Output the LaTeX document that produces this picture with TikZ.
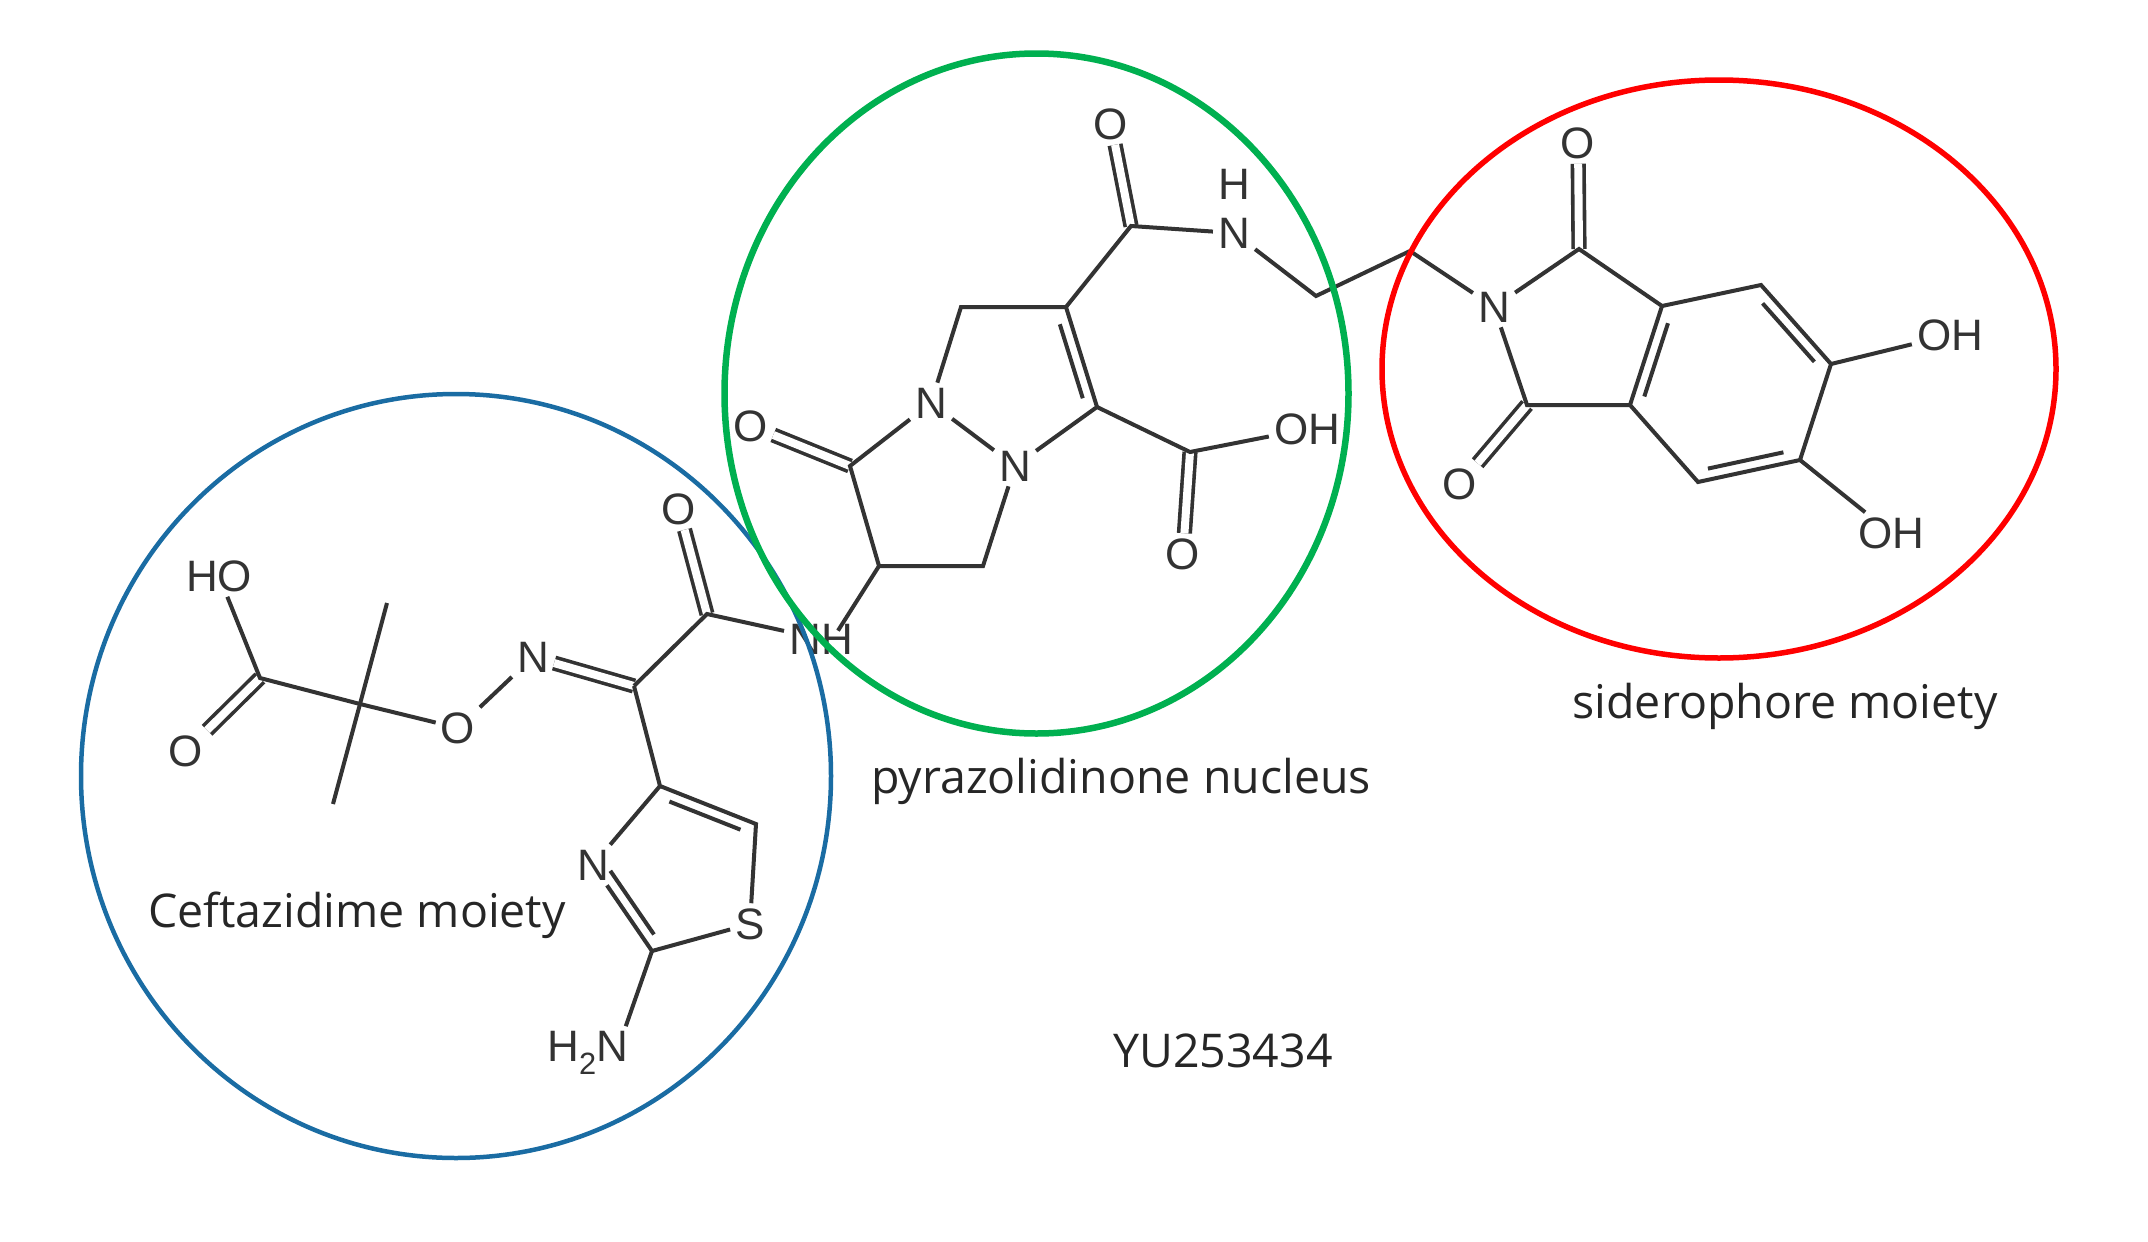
\documentclass[tikz,border=0pt]{standalone}
\usepackage{fontspec}
\usepackage{tikz}
\usetikzlibrary{calc}
\setmainfont{Liberation Sans}
\newfontfamily\labelfont{Open Sans}
\definecolor{bondgray}{HTML}{333333}
\definecolor{blueline}{HTML}{1A6CA3}
\definecolor{greenline}{HTML}{00B050}
\definecolor{redline}{HTML}{FF0000}
\tikzset{
	atom/.style={inner sep=5pt,text=bondgray,font=\fontsize{44}{48}\selectfont},
	caption/.style={inner sep=0pt,text=black!85,font=\labelfont\fontsize{46.5}{50}\selectfont},
	bond/.style={draw=bondgray,line width=4pt},
	dbond/.style={draw=bondgray,line width=3.6pt,double=white,double distance=8pt},
	moiety/.style={line width=#1,fill=none}
}
% inner line of a double bond in a ring
\newcommand{\ringbond}[3]{\draw[bond] ($(#1)!.14!(#2)!11pt!#3:(#2)$) -- ($(#1)!.88!(#2)!11pt!#3:(#2)$);}

\begin{document}
\begin{tikzpicture}[x=1pt,y=-1pt]
\useasboundingbox (0,0) rectangle (2148,1242);

% ceftazidime part
\node [atom] (ho) at (219,576) {HO};
\node [atom] (oa) at (186,751) {O};
\node [atom] (oe) at (458,728) {O};
\node [atom] (no) at (533,657) {N};
\node [atom] (ob) at (679,509) {O};
\node [atom] (nha) at (821,639) {NH};
\node [atom] (s) at (750,924) {S};
\node [atom] (nt) at (593,865) {N};
\node [atom] (nh2) at (588,1053) {H\textsubscript{2}N};
\coordinate (ca) at (260,678);
\coordinate (cq) at (360,704);
\coordinate (mea) at (387,603);
\coordinate (meb) at (333,804);
\coordinate (ci) at (634,686);
\coordinate (cb) at (707,614);
\coordinate (tc) at (660,786);
\coordinate (td) at (756,824);
\coordinate (te) at (652,951);

% pyrazolidinone part
\node [atom] (oc) at (751,426) {O};
\node [atom] (na) at (931,403) {N};
\node [atom] (nb) at (1015,466) {N};
\node [atom] (od) at (1111,124) {O};
\node [atom] (nc) at (1234,233) {N};
\node [atom] (hc) at (1234,184) {H};
\node [atom] (oh) at (1307,429) {OH};
\node [atom] (oe2) at (1183,554) {O};
\coordinate (pa) at (850,466);
\coordinate (pb) at (879,566);
\coordinate (pc) at (983,566);
\coordinate (pd) at (961,307);
\coordinate (pe) at (1066,307);
\coordinate (pf) at (1097,407);
\coordinate (pg) at (1131,226);
\coordinate (ph) at (1190,452);
\coordinate (li) at (1316,296);
\coordinate (lj) at (1410,251);

% siderophore part
\node [atom] (nd) at (1494,307) {N};
\node [atom] (of) at (1578,143) {O};
\node [atom] (og) at (1460,484) {O};
\node [atom] (oha) at (1950,335) {OH};
\node [atom] (ohb) at (1891,533) {OH};
\coordinate (sa) at (1579,249);
\coordinate (sb) at (1527,405);
\coordinate (sc) at (1662,306);
\coordinate (sd) at (1630,405);
\coordinate (se) at (1761,285);
\coordinate (sf) at (1831,364);
\coordinate (sg) at (1800,460);
\coordinate (sh) at (1698,482);

% double bonds first, the white core would cut the others
\draw [dbond] (ca) -- (oa);
\draw [dbond] (no) -- (ci);
\draw [dbond] (cb) -- (ob);
\draw [dbond] (pa) -- (oc);
\draw [dbond] (pg) -- (od);
\draw [dbond] (ph) -- (oe2);
\draw [dbond] (sa) -- (of);
\draw [dbond] (sb) -- (og);

\draw [bond] (ho) -- (ca) -- (cq) -- (oe);
\draw [bond] (mea) -- (cq) -- (meb);
\draw [bond] (oe) -- (no);
\draw [bond] (ci) -- (cb) -- (nha);
\draw [bond] (ci) -- (tc) -- (td) -- (s) -- (te) -- (nt) -- (tc);
\draw [bond] (te) -- ([xshift=-8pt]nh2.north east);
\draw [bond] ([xshift=-20pt,yshift=-12pt]nha.north east) -- (pb) -- (pc) -- (nb) -- (na) -- (pa) -- (pb);
\draw [bond] (na) -- (pd) -- (pe) -- (pf) -- (nb);
\draw [bond] (pe) -- (pg) -- (nc) -- (li) -- (lj) -- (nd);
\draw [bond] (pf) -- (ph) -- (oh);
\draw [bond] (nd) -- (sa) -- (sc) -- (sd) -- (sb) -- (nd);
\draw [bond] (sc) -- (se) -- (sf) -- (sg) -- (sh) -- (sd);
\draw [bond] (sf) -- (oha);
\draw [bond] (sg) -- (ohb);
\ringbond{tc}{td}{-90}
\ringbond{nt}{te}{90}
\ringbond{pe}{pf}{-90}
\ringbond{sc}{sd}{90}
\ringbond{se}{sf}{-90}
\ringbond{sg}{sh}{-90}

% the three moieties
\node [caption] (capa) at (357,915) {Ceftazidime moiety};
\node [caption] (capb) at (1121,781) {pyrazolidinone nucleus};
\node [caption] (capc) at (1785,706) {siderophore moiety};
\node [caption] (capd) at (1223,1051) {YU253434};
\draw [blueline,moiety=4.5pt] (456,776) ellipse [x radius=375,y radius=382];
\draw [redline,moiety=5.5pt] (1719,369) ellipse [x radius=337,y radius=289];
\draw [greenline,moiety=6.5pt] (1036.5,393.5) ellipse [x radius=312,y radius=340];
\end{tikzpicture}
\end{document}
